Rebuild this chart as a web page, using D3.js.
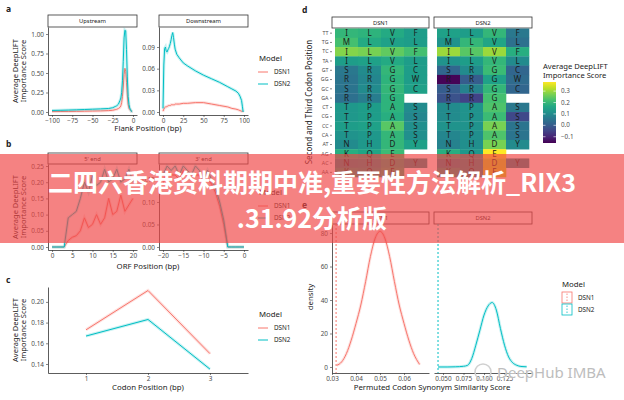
<!DOCTYPE html>
<html>
<head>
<meta charset="utf-8">
<script src="https://cdn.jsdelivr.net/npm/d3@7"></script>
<style>
  body { margin: 0; background: #fff; }
  svg { display: block; }
  text { font-family: "Noto Sans", "DejaVu Sans", sans-serif; }
</style>
</head>
<body>
<svg id="fig" width="624" height="400"></svg>
<script>
// -- DATA --
const models = ["DSN1", "DSN2"];
const modelColors = ["#F8766D", "#00BFC4"];

// a: flank positions
const upPos = [-100, -90, -80, -70, -60, -50, -40, -30, -25, -22, -20, -18, -16, -15, -14, -13, -12, -11, -10, -9, -8, -7, -6, -5, -4, -3, -2, -1];
const upDSN1 = [0.005, 0.006, 0.007, 0.008, 0.01, 0.012, 0.014, 0.018, 0.022, 0.03, 0.035, 0.045, 0.06, 0.08, 0.12, 0.2, 0.32, 0.48, 0.56, 0.52, 0.38, 0.22, 0.1, 0.05, 0.03, 0.02, 0.01, 0.0];
const upDSN2 = [0.02, 0.022, 0.025, 0.028, 0.032, 0.036, 0.04, 0.045, 0.055, 0.07, 0.08, 0.1, 0.15, 0.18, 0.25, 0.4, 0.65, 0.95, 1.05, 1.04, 0.8, 0.45, 0.2, 0.1, 0.05, 0.03, 0.01, 0.0];
const downPos = [0, 1, 2, 3, 4, 5, 6, 7, 8, 9, 10, 11, 12, 13, 14, 15, 17, 20, 25, 30, 40, 50, 60, 70, 80, 85, 90, 93, 95, 97, 98, 99];
const downDSN1 = [0.001, 0.004, 0.006, 0.007, 0.007, 0.008, 0.008, 0.009, 0.009, 0.009, 0.01, 0.01, 0.01, 0.01, 0.01, 0.011, 0.011, 0.011, 0.012, 0.012, 0.013, 0.013, 0.011, 0.009, 0.007, 0.005, 0.004, 0.003, 0.002, 0.001, 0.001, 0.0];
const downDSN2 = [0.005, 0.065, 0.088, 0.09, 0.084, 0.083, 0.086, 0.088, 0.091, 0.095, 0.1, 0.106, 0.11, 0.103, 0.094, 0.087, 0.08, 0.075, 0.068, 0.064, 0.057, 0.051, 0.046, 0.041, 0.035, 0.032, 0.029, 0.026, 0.022, 0.016, 0.008, 0.0];

// b: ORF positions
const fivePos = [0, 1, 2, 3, 4, 5, 6, 7, 8, 9, 10, 11, 12, 13, 14, 15, 16, 17, 18, 19, 20];
const fiveDSN1 = [0, 0, 0, 0, 0.02, 0.03, 0.035, 0.05, 0.09, 0.06, 0.07, 0.1, 0.07, 0.09, 0.15, 0.1, 0.11, 0.16, 0.11, 0.13, 0.15];
const fiveDSN2 = [0, 0, 0, 0, 0.09, 0.1, 0.11, 0.15, 0.2, 0.17, 0.22, 0.19, 0.2, 0.24, 0.2, 0.21, 0.24, 0.2, 0.21, 0.24, 0.2];
const threePos = [-20, -19, -18, -17, -16, -15, -14, -13, -12, -11, -10, -9, -8, -7, -6, -5, -4, -3, -2, -1, 0];
const threeDSN1 = [0.14, 0.17, 0.16, 0.16, 0.15, 0.17, 0.16, 0.15, 0.16, 0.16, 0.14, 0.15, 0.14, 0.12, 0.09, 0.05, 0, 0, 0, 0, 0];
const threeDSN2 = [0.16, 0.18, 0.17, 0.18, 0.16, 0.18, 0.17, 0.16, 0.18, 0.17, 0.15, 0.17, 0.15, 0.13, 0.1, 0.06, 0, 0, 0, 0, 0];

// c: codon position
const codonPos = [1, 2, 3];
const codonDSN1 = [0.173, 0.211, 0.150];
const codonDSN2 = [0.167, 0.183, 0.135];

// d: heatmap
const codonRows = ["TT", "TG", "TC", "TA", "GT", "GG", "GC", "GA", "CT", "CG", "CC", "CA", "AT", "AG", "AC", "AA"];
const firstBase = ["A", "C", "G", "T"];
const aminoAcids = [
  ["I", "L", "V", "F"], ["M", "L", "V", "L"], ["I", "L", "V", "F"], ["I", "L", "V", "L"],
  ["S", "R", "G", "C"], ["R", "R", "G", "W"], ["S", "R", "G", "C"], ["R", "R", "G", null],
  ["T", "P", "A", "S"], ["T", "P", "A", "S"], ["T", "P", "A", "S"], ["T", "P", "A", "S"],
  ["N", "H", "D", "Y"], ["K", "Q", "E", null], ["N", "H", "D", "Y"], ["K", "Q", "E", null]
];
const heatDSN1 = [
  [0.20, 0.19, 0.17, 0.14], [0.22, 0.17, 0.15, 0.14], [0.28, 0.27, 0.25, 0.22], [0.14, 0.15, 0.17, 0.14],
  [0.06, 0.10, 0.20, 0.14], [0.05, 0.09, 0.19, 0.14], [0.05, 0.10, 0.20, 0.15], [0.04, 0.07, 0.19, null],
  [0.13, 0.14, 0.19, 0.10], [0.13, 0.14, 0.18, 0.09], [0.14, 0.15, 0.24, 0.11], [0.12, 0.13, 0.20, 0.11],
  [0.10, 0.13, 0.20, 0.15], [0.18, 0.16, 0.21, null], [0.10, 0.12, 0.17, 0.11], [0.16, 0.14, 0.19, null]
];
const heatDSN2 = [
  [0.15, 0.14, 0.20, 0.06], [0.12, 0.20, 0.16, 0.04], [0.30, 0.24, 0.30, 0.18], [0.12, 0.14, 0.20, 0.10],
  [0.02, 0.10, 0.21, 0.02], [-0.15, 0.00, 0.15, 0.03], [0.00, 0.08, 0.20, 0.02], [-0.02, -0.05, 0.22, null],
  [0.10, 0.12, 0.23, 0.06], [0.10, 0.12, 0.21, -0.04], [0.12, 0.12, 0.27, 0.05], [0.09, 0.11, 0.23, 0.05],
  [0.08, 0.11, 0.27, 0.10], [0.18, 0.13, 0.38, null], [0.09, 0.11, 0.33, 0.09], [0.15, 0.12, 0.34, null]
];
const scoreTicks = [-0.1, 0.0, 0.1, 0.2, 0.3];

// e: permuted similarity densities
const permDSN1X = [0.032, 0.034, 0.036, 0.038, 0.040, 0.042, 0.044, 0.046, 0.048, 0.050, 0.052, 0.054, 0.056, 0.058, 0.060, 0.062, 0.064, 0.0665];
const permDSN1Y = [1, 3, 8, 16, 26, 37, 51, 66, 77, 81, 77, 66, 51, 37, 26, 16, 8, 1.5];
const permDSN2X = [0.044, 0.055, 0.065, 0.070, 0.075, 0.080, 0.085, 0.090, 0.095, 0.100, 0.105, 0.110, 0.115, 0.120, 0.125, 0.130, 0.135, 0.140, 0.145, 0.152];
const permDSN2Y = [0, 0, 0.1, 0.2, 0.4, 1, 5, 13, 22, 31, 36.5, 38.5, 34, 23, 13, 6, 2.5, 1, 0.3, 0.1];
const observed = [0.0317, 0.0439];

// -- DRAW --
const svg = d3.select("#fig");
const AX = "#333";
const TXT = "#4d4d4d";

function styleAxis(g) {
  g.attr("font-family", null).attr("font-size", 6.4);
  g.select(".domain").attr("stroke", AX).attr("stroke-width", 0.8);
  g.selectAll(".tick line").attr("stroke", AX).attr("stroke-width", 0.6);
  g.selectAll(".tick text").attr("fill", TXT);
}
function leftAxis(scale, x, ticks, fmt) {
  svg.append("g")
    .attr("transform", `translate(${x},0)`)
    .call(d3.axisLeft(scale).tickValues(ticks).tickFormat(d3.format(fmt)).tickSize(2).tickSizeOuter(0).tickPadding(2))
    .call(styleAxis);
}
function bottomAxis(scale, y, ticks, fmt) {
  svg.append("g")
    .attr("transform", `translate(0,${y})`)
    .call(d3.axisBottom(scale).tickValues(ticks).tickFormat(fmt).tickSize(2).tickSizeOuter(0).tickPadding(1.5))
    .call(styleAxis);
}
function strip(x0, x1, y0, y1, label) {
  svg.append("rect").attr("x", x0).attr("y", y0).attr("width", x1 - x0).attr("height", y1 - y0)
    .attr("fill", "#fff").attr("stroke", AX).attr("stroke-width", 0.8);
  svg.append("text").attr("x", (x0 + x1) / 2).attr("y", (y0 + y1) / 2 + 2)
    .attr("text-anchor", "middle").attr("font-size", 5.8).attr("fill", "#222").text(label);
}
function series(x, y, xs, ys, color, curve) {
  const line = d3.line().x((d, i) => x(xs[i])).y(d => y(d)).curve(curve || d3.curveLinear);
  svg.append("path").datum(ys).attr("d", line).attr("fill", "none")
    .attr("stroke", color).attr("stroke-opacity", 0.22).attr("stroke-width", 3);
  svg.append("path").datum(ys).attr("d", line).attr("fill", "none")
    .attr("stroke", color).attr("stroke-width", 1);
}
function label(x, y, t, size, opts) {
  const el = svg.append("text").attr("x", x).attr("y", y).attr("font-size", size).attr("fill", "#222").text(t);
  if (opts && opts.anchor) el.attr("text-anchor", opts.anchor);
  if (opts && opts.weight) el.attr("font-weight", opts.weight);
  if (opts && opts.rotate) el.attr("transform", `rotate(-90,${x},${y})`);
  return el;
}
function yTitle(cy) {
  label(18, cy, "Average DeepLIFT", 7.5, { anchor: "middle", rotate: true });
  label(25.5, cy, "Importance Score", 7.5, { anchor: "middle", rotate: true });
}
function lineLegend(x, y) {
  label(x, y, "Model", 7.8);
  models.forEach((m, i) => {
    const yy = y + 13 + i * 12;
    svg.append("line").attr("x1", x - 1).attr("x2", x + 9).attr("y1", yy - 2).attr("y2", yy - 2)
      .attr("stroke", modelColors[i]).attr("stroke-width", 1);
    label(x + 15, yy, m, 6.3);
  });
}

// ---- panel a ----
label(6, 12, "a", 8.5, { weight: "bold" });
strip(48, 137, 15, 27, "Upstream");
strip(159, 248, 15, 27, "Downstream");
const xUp = d3.scaleLinear().domain([-104.95, 4.95]).range([48, 137]);
const yUp = d3.scaleLinear().domain([-0.0385, 1.09]).range([115, 27]);
const xDown = d3.scaleLinear().domain([-4.95, 104.95]).range([159, 248]);
const yDown = d3.scaleLinear().domain([-0.00415, 0.1177]).range([115, 27]);
series(xUp, yUp, upPos, upDSN1, modelColors[0]);
series(xUp, yUp, upPos, upDSN2, modelColors[1]);
series(xDown, yDown, downPos, downDSN1, modelColors[0]);
series(xDown, yDown, downPos, downDSN2, modelColors[1]);
leftAxis(yUp, 48, [0, 0.25, 0.5, 0.75, 1], ".2f");
bottomAxis(xUp, 115, [-100, -75, -50, -25, 0], d3.format("d"));
leftAxis(yDown, 159, [0, 0.03, 0.06, 0.09], ".2f");
bottomAxis(xDown, 115, [0, 25, 50, 75, 100], d3.format("d"));
yTitle(71);
label(148, 131, "Flank Position (bp)", 7.8, { anchor: "middle" });
lineLegend(259, 61);

// ---- panel b ----
label(6, 147, "b", 8.5, { weight: "bold" });
strip(48, 137, 153, 164, "5' end");
strip(159, 248, 153, 164, "3' end");
const xFive = d3.scaleLinear().domain([-1, 21]).range([48, 137]);
const yFive = d3.scaleLinear().domain([-0.00926, 0.2562]).range([250, 164]);
const xThree = d3.scaleLinear().domain([-21, 1]).range([159, 248]);
const yThree = d3.scaleLinear().domain([-0.0067, 0.1844]).range([250, 164]);
series(xFive, yFive, fivePos, fiveDSN1, modelColors[0]);
series(xFive, yFive, fivePos, fiveDSN2, modelColors[1]);
series(xThree, yThree, threePos, threeDSN1, modelColors[0]);
series(xThree, yThree, threePos, threeDSN2, modelColors[1]);
leftAxis(yFive, 48, [0, 0.05, 0.1, 0.15, 0.2, 0.25], ".2f");
bottomAxis(xFive, 250, [0, 5, 10, 15, 20], d3.format("d"));
leftAxis(yThree, 159, [0, 0.05, 0.1, 0.15], ".2f");
bottomAxis(xThree, 250, [-20, -15, -10, -5, 0], d3.format("d"));
yTitle(207);
label(148, 269, "ORF Position (bp)", 7.8, { anchor: "middle" });
lineLegend(259, 195);

// ---- panel c ----
label(6, 283, "c", 8.5, { weight: "bold" });
const xCodon = d3.scaleLinear().domain([0.387, 3.613]).range([48, 248]);
const yCodon = d3.scaleLinear().domain([0.1313, 0.2144]).range([373, 287]);
series(xCodon, yCodon, codonPos, codonDSN1, modelColors[0]);
series(xCodon, yCodon, codonPos, codonDSN2, modelColors[1]);
leftAxis(yCodon, 48, [0.14, 0.16, 0.18, 0.2], ".2f");
bottomAxis(xCodon, 373, codonPos, d3.format("d"));
yTitle(330);
label(148, 390, "Codon Position (bp)", 7.8, { anchor: "middle" });
lineLegend(259, 317);

// ---- panel d ----
label(302, 13, "d", 8.5, { weight: "bold" });
const heatColor = d3.scaleSequential(d3.interpolateViridis).domain([-0.155, 0.38]);
const rowBand = d3.scaleBand().domain(codonRows).range([28.5, 177]);
const heatPanels = [
  { name: "DSN1", vals: heatDSN1, strip: [332, 429], tiles: [335, 427] },
  { name: "DSN2", vals: heatDSN2, strip: [434, 532], tiles: [437, 529] }
];
heatPanels.forEach(p => {
  strip(p.strip[0], p.strip[1], 17, 28, p.name);
  const colBand = d3.scaleBand().domain(firstBase).range(p.tiles);
  const cells = [];
  codonRows.forEach((r, i) => firstBase.forEach((b, j) => {
    if (p.vals[i][j] !== null) cells.push({ r, b, v: p.vals[i][j], aa: aminoAcids[i][j] });
  }));
  svg.append("g").selectAll("rect").data(cells).enter().append("rect")
    .attr("x", d => colBand(d.b)).attr("y", d => rowBand(d.r))
    .attr("width", colBand.bandwidth() + 0.3).attr("height", rowBand.bandwidth() + 0.3)
    .attr("fill", d => heatColor(d.v));
  svg.append("g").selectAll("text").data(cells).enter().append("text")
    .attr("x", d => colBand(d.b) + colBand.bandwidth() / 2)
    .attr("y", d => rowBand(d.r) + rowBand.bandwidth() / 2 + 2.9)
    .attr("text-anchor", "middle").attr("font-size", 8).attr("fill", "#1b1b1b")
    .text(d => d.aa);
});
svg.append("g").attr("transform", "translate(332,0)")
  .call(d3.axisLeft(rowBand).tickSize(2).tickSizeOuter(0).tickPadding(1.5))
  .call(styleAxis)
  .call(g => g.select(".domain").remove())
  .call(g => g.selectAll(".tick text").attr("font-size", 5.3));
label(312, 102, "Second and Third Codon Position", 8, { anchor: "middle", rotate: true });

// colorbar
label(543, 69, "Average DeepLIFT", 7.6);
label(543, 78, "Importance Score", 7.6);
const cbY = d3.scaleLinear().domain([-0.155, 0.38]).range([143, 82]);
const grad = svg.append("defs").append("linearGradient").attr("id", "cb")
  .attr("x1", 0).attr("y1", 1).attr("x2", 0).attr("y2", 0);
d3.range(0, 1.0001, 0.1).forEach(t => {
  grad.append("stop").attr("offset", t).attr("stop-color", heatColor(-0.155 + t * (0.38 + 0.155)));
});
svg.append("rect").attr("x", 543).attr("y", 82).attr("width", 13).attr("height", 61).attr("fill", "url(#cb)");
scoreTicks.forEach(t => {
  svg.append("line").attr("x1", 543).attr("x2", 545.5).attr("y1", cbY(t)).attr("y2", cbY(t)).attr("stroke", "#fff").attr("stroke-width", 0.6);
  svg.append("line").attr("x1", 553.5).attr("x2", 556).attr("y1", cbY(t)).attr("y2", cbY(t)).attr("stroke", "#fff").attr("stroke-width", 0.6);
  label(561, cbY(t) + 2, d3.format(".1f")(t), 6.3).attr("fill", TXT);
});

// ---- panel e ----
label(302, 208, "e", 8.5, { weight: "bold" });
strip(332, 429, 212, 224, "DSN1");
strip(434, 532, 212, 224, "DSN2");
const xPerm1 = d3.scaleLinear().domain([0.030, 0.0704]).range([332, 429]);
const xPerm2 = d3.scaleLinear().domain([0.039, 0.1585]).range([434, 532]);
const yPerm = d3.scaleLinear().domain([-3.6, 85.4]).range([373, 224]);
[[xPerm1, 0], [xPerm2, 1]].forEach(([xs, i]) => {
  svg.append("line").attr("x1", xs(observed[i])).attr("x2", xs(observed[i])).attr("y1", 224).attr("y2", 373)
    .attr("stroke", modelColors[i]).attr("stroke-width", 1).attr("stroke-dasharray", "2,2");
});
series(xPerm1, yPerm, permDSN1X, permDSN1Y, modelColors[0], d3.curveMonotoneX);
series(xPerm2, yPerm, permDSN2X, permDSN2Y, modelColors[1], d3.curveMonotoneX);
leftAxis(yPerm, 332, [0, 20, 40, 60, 80], "d");
bottomAxis(xPerm1, 373, [0.03, 0.04, 0.05, 0.06], d3.format(".2f"));
bottomAxis(xPerm2, 373, [0.05, 0.075, 0.1, 0.125], d3.format(".3f"));
label(313, 297, "density", 7.8, { anchor: "middle", rotate: true });
label(432, 390, "Permuted Codon Synonym Similarity Score", 7.8, { anchor: "middle" });
label(562, 287, "Model", 7.8);
models.forEach((m, i) => {
  const yy = 292 + i * 12;
  svg.append("rect").attr("x", 562).attr("y", yy).attr("width", 10).attr("height", 11)
    .attr("fill", "#fff").attr("stroke", modelColors[i]).attr("stroke-width", 0.8);
  svg.append("line").attr("x1", 567).attr("x2", 567).attr("y1", yy + 1.5).attr("y2", yy + 9.5)
    .attr("stroke", modelColors[i]).attr("stroke-width", 0.8).attr("stroke-dasharray", "1.5,1.5");
  label(578, yy + 8, m, 6.3);
});

// watermark
svg.append("circle").attr("cx", 483).attr("cy", 372).attr("r", 8)
  .attr("fill", "none").attr("stroke", "#d0d0d0").attr("stroke-width", 1.5);
svg.append("text").attr("x", 497).attr("y", 378).attr("font-size", 15)
  .attr("fill", "#bdbdbd").attr("stroke", "#fff").attr("stroke-width", 0.6).attr("paint-order", "stroke")
  .text("DeepHub IMBA");

// ---- banner overlay ----
svg.append("rect").attr("x", 0).attr("y", 154).attr("width", 624).attr("height", 89)
  .attr("fill", "rgb(240,68,68)").attr("fill-opacity", 0.67);
const bannerLines = ["二四六香港资料期期中准,重要性方法解析_RIX3", ".31.92分析版"];
bannerLines.forEach((t, i) => {
  svg.append("text").attr("x", 312).attr("y", 192 + i * 36)
    .attr("text-anchor", "middle").attr("font-size", 25).attr("font-weight", "bold")
    .style("font-family", "'Noto Sans CJK SC', 'Noto Sans', sans-serif")
    .attr("fill", "#fff").text(t);
});
</script>
</body>
</html>
